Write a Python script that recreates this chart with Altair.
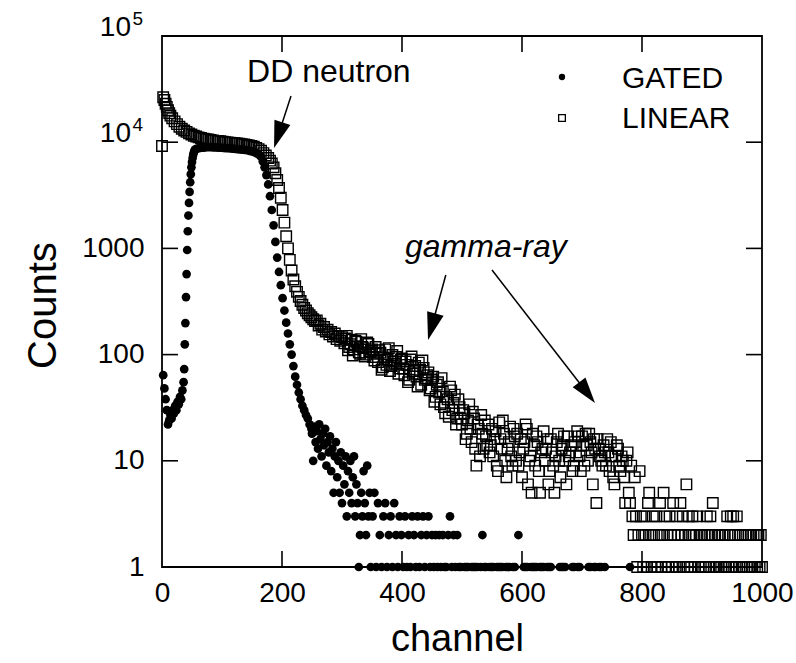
import altair as alt
import pandas as pd

# ---------------- spectrum data (counts per channel) ----------------
# GATED spectrum, stored in segments: (first channel, channel step, counts)
gated_low_counts = [0, 64, 48, 38, 30, 22, 24, 27, 25, 30, 28, 33, 30, 36, 34, 40, 38, 46, 55]
gated_rise_counts = [73, 125, 198, 348, 573, 966, 1450, 2040, 2680, 3400, 4200, 5000, 5800,
                     6500, 7100, 7600, 8000, 8300, 8500]
gated_plateau_counts = [8700, 8800, 8900, 8900, 9000, 9000, 9000, 8950, 8950, 8900, 8900, 8850,
                        8800, 8800, 8750, 8700, 8650, 8600, 8550, 8500, 8450, 8400, 8300, 8200,
                        8050, 7850, 7600]
gated_edge_counts = [7300, 6600, 5800, 4900, 4000, 3100, 2300, 1650, 1150, 820, 600, 450, 340,
                     260, 200, 158, 125, 100, 78, 62, 52, 44, 38, 33, 30, 27, 25, 22, 20]
gated_spread_counts = [18, 10, 21, 15, 19, 13, 22, 16, 11, 18,
                       14, 20, 9, 15, 12, 17, 8, 13, 5, 11,
                       15, 7, 10, 5, 12, 4, 9, 6, 11, 3,
                       8, 5, 10, 4, 7, 11, 3, 6, 4, 1,
                       2, 5, 3, 8, 4, 2, 9, 3, 5, 1]
gated_tail_counts = [3, 5, 1, 4, 2, 1, 3, 4, 1, 2, 3, 1, 4, 2, 1, 3, 2, 1, 3, 1,
                     2, 1, 3, 2, 1, 3, 1, 2, 3, 1, 2, 3, 1,
                     2, 1, 2, 1, 2, 1, 2, 1, 1, 2, 3, 1, 2, 1, 2,
                     1, 1, 0, 1, 1, 1, 0, 1, 1, 1, 1, 0, 1, 2, 1, 1, 0, 1, 1, 1,
                     0, 1, 1, 1, 1, 0, 1, 1, 1, 0, 1, 1, 0, 2, 0,
                     0, 1, 1, 1, 0, 1, 1, 1, 1, 0, 1, 1, 1, 0, 1, 1, 1, 0, 0, 0,
                     0, 1, 1, 1, 1, 0, 0, 0, 1, 1, 0, 1, 1, 0, 0, 0, 0, 1, 1, 0,
                     1, 1, 0, 1, 1, 0, 1, 0, 0, 0, 0, 0, 0, 0, 0, 0, 0, 0, 0, 0, 1]

# LINEAR spectrum
linear_start_counts = [9200, 26500, 25000, 23000, 21500, 20000, 18800, 17800]
linear_plateau_counts = [16800, 15700, 14800, 14000, 13400, 12900, 12500, 12100, 11800, 11500,
                         11300, 11100, 10950, 10800, 10700, 10600, 10500, 10400, 10300, 10250,
                         10200, 10100, 10000, 9950, 9900, 9850, 9800, 9750, 9700, 9600,
                         9500, 9400, 9300, 9200, 9050, 8850, 8600, 8300, 7900, 7500, 7100]
linear_edge_counts = [6700, 6300, 5800, 5100, 4400, 3700, 3000, 2300, 1750, 1300,
                      1000, 780, 620, 510, 440, 390, 350, 320, 295, 275,
                      260, 245, 235, 225, 215, 207, 210, 188, 195, 172,
                      182, 165, 172, 155, 163, 148, 158, 140, 150, 135, 146]
# gamma-ray continuum, channels 304, 308, ... 780
linear_gamma_counts = [128, 150, 118, 138, 112, 132, 105, 140, 115, 100, 126, 108,
                       95, 118, 85, 104, 76, 112, 90, 70, 99, 82, 108, 74,
                       92, 64, 80, 58, 96, 70, 62, 84, 52, 75, 60, 68,
                       48, 62, 40, 55, 34, 45, 28, 38, 50, 30, 42, 25,
                       32, 22, 28, 18, 34, 15, 25, 9, 20, 27, 13, 17,
                       22, 14, 11, 19, 8, 16, 24, 10, 13, 21, 9, 17,
                       18, 12, 7, 15, 20, 10, 5, 14, 17, 8, 12, 19,
                       13, 6, 16, 9, 11, 18, 7, 14, 10, 17, 12, 8,
                       15, 19, 11, 17, 9, 14, 18, 12, 16, 4, 13, 10,
                       14, 9, 12, 15, 7, 11, 13, 8, 10, 4, 12, 4]
# gamma-ray continuum, channels 306, 310, ... 778
linear_gamma_even_counts = [142, 110, 125, 98, 135, 120, 102, 118, 96, 130, 105, 112,
                            88, 102, 110, 72, 94, 80, 115, 78, 86, 95, 66, 90,
                            74, 86, 55, 90, 66, 78, 50, 72, 88, 58, 64, 46,
                            58, 36, 52, 44, 60, 32, 40, 26, 46, 35, 22, 38,
                            25, 30, 16, 24, 20, 29, 13, 22, 11, 18, 24, 14,
                            12, 20, 16, 9, 23, 13, 18, 7, 15, 11, 20, 10,
                            9, 16, 13, 22, 6, 11, 18, 9, 15, 5, 13, 10,
                            16, 8, 12, 5, 15, 10, 13, 17, 6, 11, 14, 9,
                            12, 17, 8, 14, 18, 10, 15, 6, 13, 16, 11, 9,
                            12, 16, 8, 11, 6, 14, 9, 11, 7, 10, 5]
linear_tail_counts = [9, 3, 2, 7, 3, 1, 2, 8, 3, 2,
                      1, 3, 2, 1, 4, 5, 2, 1, 3, 2,
                      1, 3, 1, 2, 4, 1, 2, 5, 3, 1,
                      2, 1, 3, 2, 1, 4, 2, 1, 3, 2,
                      1, 4, 2, 3, 1, 2, 6, 1, 3, 2,
                      1, 3, 2, 1, 2, 3, 1, 2, 1, 2,
                      1, 2, 1, 3, 2, 1, 3, 2, 4, 1,
                      2, 1, 2, 1, 2, 1, 2, 1, 2, 1,
                      3, 1, 2, 3, 1, 3, 2, 1, 3, 2,
                      1, 2, 1, 2, 1, 0, 2, 1, 2, 1,
                      2, 1, 2, 1, 2, 1, 2, 1, 2, 1]

gated_segments = [(0, 2, gated_low_counts), (37, 1, gated_rise_counts),
                  (58, 4, gated_plateau_counts), (165, 3, gated_edge_counts),
                  (250, 2, gated_spread_counts), (351, 3, gated_tail_counts)]
linear_segments = [(0, 2, linear_start_counts), (17, 4, linear_plateau_counts),
                   (180, 3, linear_edge_counts), (304, 4, linear_gamma_counts),
                   (306, 4, linear_gamma_even_counts), (782, 2, linear_tail_counts)]


def spectrum(segments):
    rows = []
    for first, step, counts in segments:
        for i, c in enumerate(counts):
            if c > 0:  # empty channels cannot be shown on a log axis
                rows.append({"channel": first + i * step, "counts": c})
    return pd.DataFrame(rows).sort_values("channel")


gated = spectrum(gated_segments)
linear = spectrum(linear_segments)

# axis ticks
x_tick_values = [200, 400, 600, 800]
y_tick_values = [10, 100, 1000, 10000]

# annotation arrows: tail point, arrow-head centre, head rotation (deg), head size
arrow_tail_channel = [215, 473, 550]
arrow_tail_counts = [27200, 562, 626]
arrow_head_channel = [193.7, 449.5, 708.4]
arrow_head_counts = [11640, 183, 43.8]
arrow_head_angle = [198, 195.5, 142.3]
arrow_head_size = [729, 756, 676]

FONT = "Liberation Sans"
W, H = 600, 531

xs = alt.Scale(domain=[0, 1000], nice=False, zero=False)
ys = alt.Scale(type="log", domain=[1, 100000], nice=False)

x_axis = alt.Axis(
    values=[0, 200, 400, 600, 800, 1000], format="d", title="channel",
    ticks=False, domain=False, grid=False, labelFlush=False,
    labelFont=FONT, labelFontSize=28, labelColor="black", labelPadding=12,
    titleFont=FONT, titleFontSize=38, titleFontWeight="normal", titleColor="black",
    titleX=295, titleY=83, titleAlign="center", titleBaseline="alphabetic")
y_axis = alt.Axis(
    values=[1, 10, 100, 1000, 10000, 100000],
    labelExpr="datum.value >= 10000 ? '' : format(datum.value, 'd')",
    title="Counts", ticks=False, domain=False, grid=False, labelFlush=False,
    labelFont=FONT, labelFontSize=28, labelColor="black", labelPadding=18,
    titleFont=FONT, titleFontSize=40, titleFontWeight="normal", titleColor="black",
    titleAngle=270, titleX=-107, titleY=269, titleAlign="center",
    titleBaseline="alphabetic")


def X(field="channel"):
    return alt.X(f"{field}:Q", scale=xs, axis=x_axis, title="channel")


def Y(field="counts"):
    return alt.Y(f"{field}:Q", scale=ys, axis=y_axis, title="Counts")


linear_layer = alt.Chart(linear).mark_point(
    shape="square", size=110, filled=False, stroke="black", strokeWidth=1.4, opacity=1
).encode(x=X(), y=Y())

gated_layer = alt.Chart(gated).mark_circle(size=76, color="black", opacity=1).encode(
    x=X(), y=Y())

# power-of-ten tick labels
pow_df = pd.DataFrame({"counts": [10000, 100000], "base": ["10", "10"], "exp": ["4", "5"]})
pow_base = alt.Chart(pow_df).mark_text(
    font=FONT, fontSize=28, align="right", baseline="middle", dy=-8, color="black"
).encode(x=alt.value(-31), y=Y(), text="base:N")
pow_exp = alt.Chart(pow_df).mark_text(
    font=FONT, fontSize=19, align="right", baseline="middle", dy=-17, color="black"
).encode(x=alt.value(-19), y=Y(), text="exp:N")

# inward ticks on all four sides
xt = pd.DataFrame({"channel": x_tick_values})
yt = pd.DataFrame({"counts": y_tick_values})
tick_style = dict(color="black", strokeWidth=1.6)
ticks_bottom = alt.Chart(xt).mark_rule(**tick_style).encode(
    x=X(), y=alt.value(H), y2=alt.value(H - 16))
ticks_top = alt.Chart(xt).mark_rule(**tick_style).encode(
    x=X(), y=alt.value(0), y2=alt.value(16))
ticks_left = alt.Chart(yt).mark_rule(**tick_style).encode(
    y=Y(), x=alt.value(0), x2=alt.value(16))
ticks_right = alt.Chart(yt).mark_rule(**tick_style).encode(
    y=Y(), x=alt.value(W - 16), x2=alt.value(W))

# annotations
arrows = pd.DataFrame({
    "channel": arrow_tail_channel, "counts": arrow_tail_counts,
    "hc": arrow_head_channel, "hn": arrow_head_counts,
    "angle": arrow_head_angle, "size": arrow_head_size,
})
arrow_lines = alt.Chart(arrows).mark_rule(color="black", strokeWidth=1.5).encode(
    x=X(), y=Y(), x2="hc:Q", y2="hn:Q")
arrow_heads = alt.Chart(arrows).mark_point(
    shape="M0,-1L-0.62,1L0.62,1Z", filled=True, color="black", opacity=1
).encode(
    x=X("hc"), y=Y("hn"),
    angle=alt.Angle("angle:Q", scale=None),
    size=alt.Size("size:Q", scale=None, legend=None))

labels_df = pd.DataFrame({"channel": [141.7], "counts": [36900], "text": ["DD neutron"]})
dd_text = alt.Chart(labels_df).mark_text(
    font=FONT, fontSize=32, align="left", baseline="alphabetic", color="black"
).encode(x=X(), y=Y(), text="text:N")
gamma_df = pd.DataFrame({"channel": [405], "counts": [830], "text": ["gamma-ray"]})
gamma_text = alt.Chart(gamma_df).mark_text(
    font=FONT, fontSize=32, fontStyle="italic", align="left", baseline="alphabetic",
    color="black"
).encode(x=X(), y=Y(), text="text:N")

# legend
leg_df = pd.DataFrame({"k": [0]})
leg_gated_sym = alt.Chart(leg_df).mark_circle(size=40, color="black", opacity=1).encode(
    x=alt.value(400), y=alt.value(41))
leg_linear_sym = alt.Chart(leg_df).mark_point(
    shape="square", size=45, filled=False, stroke="black", strokeWidth=1.3, opacity=1
).encode(x=alt.value(400), y=alt.value(82))
leg_gated_txt = alt.Chart(leg_df).mark_text(
    text="GATED", font=FONT, fontSize=30, align="left", baseline="alphabetic", color="black"
).encode(x=alt.value(460), y=alt.value(52))
leg_linear_txt = alt.Chart(leg_df).mark_text(
    text="LINEAR", font=FONT, fontSize=30, align="left", baseline="alphabetic", color="black"
).encode(x=alt.value(460), y=alt.value(92))

chart = alt.layer(
    linear_layer, gated_layer, pow_base, pow_exp,
    ticks_bottom, ticks_top, ticks_left, ticks_right,
    arrow_lines, arrow_heads, dd_text, gamma_text,
    leg_gated_sym, leg_linear_sym, leg_gated_txt, leg_linear_txt,
).properties(
    width=W, height=H,
    autosize=alt.AutoSizeParams(type="none"),
    padding={"left": 162, "top": 36, "right": 34, "bottom": 96},
    background="white",
).configure(font=FONT).configure_view(stroke="black", strokeWidth=1.8)

chart.save("out.html", embed_options={"renderer": "svg", "actions": False})
